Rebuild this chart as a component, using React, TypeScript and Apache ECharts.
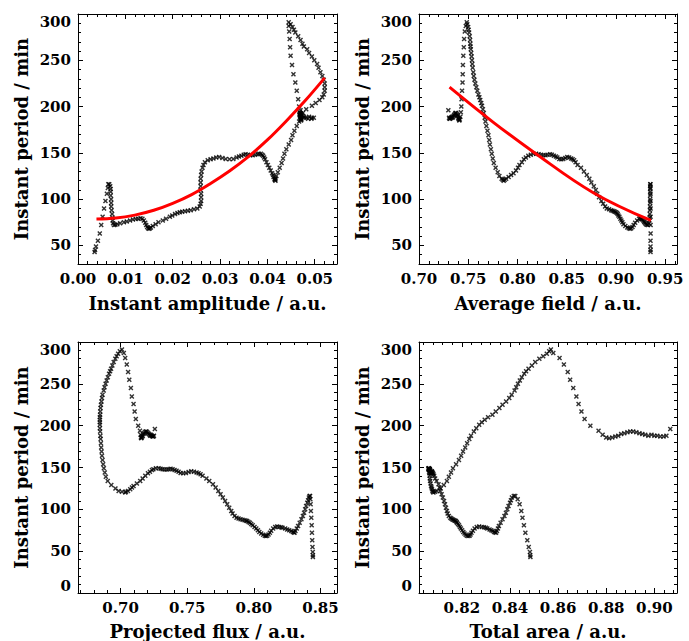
import React, { useEffect, useRef } from "react";
import * as echarts from "echarts";

// Instant period (min), time ordered
const period = [
  196, 188, 187, 187, 188, 188, 189, 188, 189, 190, 191, 192, 193, 193, 192, 191, 190, 188, 187, 186, 185, 186, 189,
  194, 200, 208, 217, 226, 235, 245, 255, 264, 273, 281, 287, 291,
  289, 286, 283, 280, 276, 272, 268, 265, 262, 258, 254, 250, 246, 242, 237, 233, 229, 225, 221, 217, 213, 210, 207, 204, 201, 197, 193, 188, 184, 179, 174, 169, 164, 159, 154, 149, 144, 139, 134, 129, 125, 122, 121, 120,
  121, 122, 124, 126, 128, 131, 134, 137, 140, 143, 145, 147, 148, 149, 149, 148.5, 148, 147.5, 147.5, 148, 148.5, 148, 147, 146, 145, 143.5, 143, 143.5, 144.5, 145.5, 145, 144, 143, 142,
  140, 137, 134, 130, 126, 122, 118, 114, 110, 106, 102, 98, 95, 92, 90, 89, 88,
  87.5, 87, 86.5, 86, 85, 84, 82.5, 81, 79, 77, 75, 73, 71, 69.5, 68.5, 68, 68.5, 70, 72, 74.5, 77, 79, 79.5, 79, 78.5, 78, 77, 76, 75, 74, 73, 72.5, 72,
  74, 77, 80, 84, 88, 92, 96, 100, 104, 108, 111, 114, 116, 116,
  112, 106, 98, 90, 81, 72, 63, 55, 49, 45, 43,
];

const amplitude = [
  0.0470, 0.0478, 0.0486, 0.0493, 0.0498, 0.0494, 0.0488, 0.0482, 0.0477, 0.0474, 0.0472, 0.0471, 0.0470, 0.0469, 0.0468, 0.0468, 0.0469, 0.0470, 0.0471, 0.0472, 0.0471, 0.0470, 0.0469,
  0.0468, 0.0467, 0.0465, 0.0462, 0.0459, 0.0455, 0.0452, 0.0449, 0.0448, 0.0447, 0.0446, 0.0445, 0.0445,
  0.0449, 0.0453, 0.0456, 0.0459, 0.0465, 0.0470, 0.0474, 0.0477, 0.0484, 0.0488, 0.0494, 0.0499, 0.0505, 0.0508, 0.0512, 0.0516, 0.0519, 0.0521, 0.0521, 0.0521, 0.0519, 0.0516, 0.0510, 0.0502, 0.0494, 0.0482, 0.0475, 0.0470, 0.0467, 0.0462, 0.0457, 0.0453, 0.0450, 0.0445, 0.0440, 0.0436, 0.0433, 0.0430, 0.0426, 0.0422, 0.0419, 0.0417, 0.0416, 0.0417,
  0.0416, 0.0415, 0.0413, 0.0412, 0.0410, 0.0407, 0.0404, 0.0401, 0.0398, 0.0395, 0.0393, 0.0391, 0.0389, 0.0386, 0.0382, 0.0379, 0.0374, 0.0369, 0.0364, 0.0359, 0.0354, 0.0350, 0.0345, 0.0340, 0.0335, 0.0328, 0.0320, 0.0312, 0.0305, 0.0298, 0.0292, 0.0286, 0.0280, 0.0274,
  0.0268, 0.0265, 0.0263, 0.0261, 0.0260, 0.0259, 0.0259, 0.0259, 0.0259, 0.0260, 0.0260, 0.0260, 0.0259, 0.0257, 0.0252, 0.0245, 0.0238,
  0.0232, 0.0226, 0.0220, 0.0215, 0.0210, 0.0205, 0.0199, 0.0194, 0.0186, 0.0179, 0.0170, 0.0164, 0.0158, 0.0154, 0.0152, 0.0150, 0.0148, 0.0146, 0.0144, 0.0142, 0.0139, 0.0136, 0.0132, 0.0127, 0.0122, 0.0116, 0.0110, 0.0103, 0.0097, 0.0089, 0.0083, 0.0079, 0.0076,
  0.0074, 0.0073, 0.0073, 0.0072, 0.0071, 0.0070, 0.0070, 0.0070, 0.0069, 0.0069, 0.0069, 0.0068, 0.0066, 0.0064,
  0.0063, 0.0061, 0.0058, 0.0055, 0.0052, 0.0049, 0.0046, 0.0042, 0.0038, 0.0036, 0.0035,
];

const averageField = [
  0.7298, 0.7305, 0.7310, 0.7316, 0.7322, 0.7328, 0.7334, 0.7340, 0.7346, 0.7352, 0.7358, 0.7364, 0.7370, 0.7376, 0.7382, 0.7388, 0.7394, 0.7398, 0.7402, 0.7406, 0.7410, 0.7414, 0.7420,
  0.7425, 0.7430, 0.7432, 0.7437, 0.7442, 0.7444, 0.7446, 0.7450, 0.7455, 0.7458, 0.7465, 0.7475, 0.7485,
  0.7490, 0.7499, 0.7504, 0.7509, 0.7515, 0.7519, 0.7521, 0.7523, 0.7526, 0.7530, 0.7534, 0.7538, 0.7541, 0.7545, 0.7551, 0.7556, 0.7563, 0.7572, 0.7582, 0.7592, 0.7603, 0.7613, 0.7622, 0.7632, 0.7640, 0.7649, 0.7658, 0.7667, 0.7675, 0.7684, 0.7695, 0.7705, 0.7713, 0.7720, 0.7730, 0.7739, 0.7749, 0.7760, 0.7778, 0.7799, 0.7816, 0.7839, 0.7850, 0.7860,
  0.7870, 0.7885, 0.7910, 0.7935, 0.7960, 0.7985, 0.8005, 0.8020, 0.8045, 0.8065, 0.8085, 0.8110, 0.8135, 0.8162, 0.8190, 0.8215, 0.8240, 0.8263, 0.8285, 0.8305, 0.8331, 0.8350, 0.8370, 0.8390, 0.8405, 0.8425, 0.8445, 0.8465, 0.8485, 0.8505, 0.8525, 0.8545, 0.8560, 0.8575,
  0.8590, 0.8610, 0.8645, 0.8675, 0.8704, 0.8730, 0.8750, 0.8775, 0.8795, 0.8810, 0.8828, 0.8852, 0.8870, 0.8890, 0.8907, 0.8930, 0.8950,
  0.8965, 0.8978, 0.8990, 0.9000, 0.9010, 0.9018, 0.9025, 0.9035, 0.9045, 0.9055, 0.9065, 0.9076, 0.9095, 0.9115, 0.9130, 0.9144, 0.9155, 0.9168, 0.9180, 0.9195, 0.9215, 0.9235, 0.9246, 0.9255, 0.9262, 0.9270, 0.9278, 0.9285, 0.9290, 0.9297, 0.9305, 0.9315, 0.9325,
  0.9335, 0.9340, 0.9342, 0.9344, 0.9345, 0.9346, 0.9347, 0.9347, 0.9348, 0.9348, 0.9348, 0.9348, 0.9349, 0.9350,
  0.9350, 0.9351, 0.9351, 0.9352, 0.9352, 0.9352, 0.9352, 0.9351, 0.9351, 0.9351, 0.9351,
];

const projectedFlux = [
  0.7257, 0.7250, 0.7246, 0.7240, 0.7236, 0.7232, 0.7226, 0.7222, 0.7218, 0.7212, 0.7206, 0.7200, 0.7194, 0.7188, 0.7182, 0.7176, 0.7170, 0.7166, 0.7162, 0.7158, 0.7155, 0.7152, 0.7150,
  0.7145, 0.7132, 0.7114, 0.7105, 0.7097, 0.7084, 0.7077, 0.7065, 0.7056, 0.7046, 0.7034, 0.7024, 0.7010,
  0.6994, 0.6981, 0.6970, 0.6960, 0.6948, 0.6938, 0.6928, 0.6921, 0.6913, 0.6904, 0.6895, 0.6887, 0.6879, 0.6873, 0.6864, 0.6860, 0.6856, 0.6852, 0.6849, 0.6847, 0.6846, 0.6844, 0.6844, 0.6844, 0.6844, 0.6844, 0.6846, 0.6848, 0.6850, 0.6852, 0.6854, 0.6857, 0.6860, 0.6864, 0.6869, 0.6874, 0.6881, 0.6889, 0.6903, 0.6930, 0.6961, 0.6985, 0.7010, 0.7035,
  0.7040, 0.7055, 0.7072, 0.7085, 0.7097, 0.7122, 0.7147, 0.7165, 0.7185, 0.7205, 0.7220, 0.7235, 0.7246, 0.7265, 0.7285, 0.7300, 0.7315, 0.7330, 0.7346, 0.7360, 0.7375, 0.7390, 0.7405, 0.7420, 0.7435, 0.7450, 0.7470, 0.7490, 0.7510, 0.7530, 0.7550, 0.7570, 0.7585, 0.7600,
  0.7615, 0.7644, 0.7665, 0.7693, 0.7713, 0.7733, 0.7750, 0.7767, 0.7784, 0.7800, 0.7815, 0.7830, 0.7840, 0.7855, 0.7870, 0.7885, 0.7900,
  0.7915, 0.7930, 0.7942, 0.7950, 0.7960, 0.7970, 0.7980, 0.7991, 0.8005, 0.8018, 0.8030, 0.8041, 0.8055, 0.8070, 0.8082, 0.8091, 0.8100, 0.8110, 0.8120, 0.8130, 0.8145, 0.8160, 0.8175, 0.8190, 0.8205, 0.8215, 0.8235, 0.8250, 0.8265, 0.8280, 0.8292, 0.8300, 0.8305,
  0.8312, 0.8322, 0.8332, 0.8344, 0.8357, 0.8368, 0.8377, 0.8385, 0.8392, 0.8401, 0.8407, 0.8413, 0.8418, 0.8422,
  0.8424, 0.8426, 0.8428, 0.8431, 0.8434, 0.8436, 0.8438, 0.8440, 0.8442, 0.8443, 0.8443,
];

const totalArea = [
  0.9066, 0.9050, 0.9038, 0.9025, 0.9012, 0.9000, 0.8988, 0.8975, 0.8962, 0.8950, 0.8938, 0.8925, 0.8912, 0.8900, 0.8888, 0.8875, 0.8862, 0.8850, 0.8838, 0.8825, 0.8812, 0.8800, 0.8785,
  0.8768, 0.8734, 0.8710, 0.8697, 0.8685, 0.8676, 0.8663, 0.8650, 0.8640, 0.8624, 0.8606, 0.8580, 0.8570,
  0.8563, 0.8553, 0.8538, 0.8522, 0.8505, 0.8491, 0.8477, 0.8467, 0.8459, 0.8449, 0.8441, 0.8433, 0.8426, 0.8419, 0.8407, 0.8397, 0.8384, 0.8369, 0.8356, 0.8341, 0.8327, 0.8309, 0.8295, 0.8283, 0.8272, 0.8260, 0.8250, 0.8238, 0.8231, 0.8222, 0.8214, 0.8205, 0.8197, 0.8188, 0.8176, 0.8163, 0.8155, 0.8146, 0.8138, 0.8125, 0.8112, 0.8096, 0.8089, 0.8082,
  0.8080, 0.8078, 0.8076, 0.8074, 0.8072, 0.8070, 0.8068, 0.8067, 0.8066, 0.8065, 0.8064, 0.8063, 0.8062, 0.8062, 0.8062, 0.8063, 0.8063, 0.8064, 0.8065, 0.8065, 0.8066, 0.8067, 0.8068, 0.8069, 0.8070, 0.8071, 0.8072, 0.8073, 0.8074, 0.8075, 0.8076, 0.8078, 0.8080, 0.8082,
  0.8085, 0.8089, 0.8095, 0.8103, 0.8107, 0.8110, 0.8116, 0.8121, 0.8126, 0.8130, 0.8134, 0.8138, 0.8141, 0.8146, 0.8152, 0.8156, 0.8160,
  0.8164, 0.8168, 0.8172, 0.8175, 0.8178, 0.8180, 0.8184, 0.8188, 0.8192, 0.8196, 0.8201, 0.8206, 0.8211, 0.8216, 0.8221, 0.8227, 0.8232, 0.8236, 0.8240, 0.8246, 0.8253, 0.8262, 0.8272, 0.8283, 0.8292, 0.8300, 0.8306, 0.8315, 0.8322, 0.8328, 0.8334, 0.8338, 0.8342,
  0.8346, 0.8350, 0.8354, 0.8361, 0.8369, 0.8377, 0.8383, 0.8389, 0.8394, 0.8400, 0.8404, 0.8408, 0.8416, 0.8422,
  0.8432, 0.8440, 0.8447, 0.8452, 0.8458, 0.8464, 0.8472, 0.8478, 0.8483, 0.8484, 0.8485,
];

// Red fit curves
const ampFitX = [0.0039, 0.008, 0.012, 0.016, 0.020, 0.024, 0.028, 0.032, 0.036, 0.040, 0.044, 0.048, 0.0521];
const ampFitY = [78.5, 79.6, 82.8, 88, 95.5, 105, 117, 130.5, 146, 164, 184.5, 206.5, 231];
const fieldFitX = [0.731, 0.7755, 0.8162, 0.877, 0.9355];
const fieldFitY = [221, 183, 151, 107, 77];

const yTitle = "Instant period / min";
const xTitles = [
  "Instant amplitude / a.u.",
  "Average field / a.u.",
  "Projected flux / a.u.",
  "Total area / a.u.",
];

const FONT = "'DejaVu Serif', serif";
const X_MARK = "path://M0,2L2,0L5,3L8,0L10,2L7,5L10,8L8,10L5,7L2,10L0,8L3,5Z";

const panels = [
  { xs: amplitude, fitX: ampFitX, fitY: ampFitY, xMin: 0, xMax: 0.0547, xStep: 0.01, yMin: 30, left: 78, top: 14, width: 259, height: 250 },
  { xs: averageField, fitX: fieldFitX, fitY: fieldFitY, xMin: 0.7, xMax: 0.962, xStep: 0.05, yMin: 30, left: 419, top: 14, width: 258, height: 250 },
  { xs: projectedFlux, fitX: null, fitY: null, xMin: 0.668, xMax: 0.8624, xStep: 0.05, yMin: 0, left: 78, top: 342, width: 259, height: 251 },
  { xs: totalArea, fitX: null, fitY: null, xMin: 0.8022, xMax: 0.9094, xStep: 0.02, yMin: 0, left: 419, top: 342, width: 258, height: 251 },
];

const isMultiple = (v: number, step: number) => {
  const r = v / step;
  return Math.abs(r - Math.round(r)) < 1e-6;
};

export default function App() {
  const ref = useRef<HTMLDivElement>(null);
  useEffect(() => {
    if (!ref.current) return;
    const chart = echarts.init(ref.current, undefined, { renderer: "svg" });
    const axisLine = { show: true, onZero: false, lineStyle: { color: "#000", width: 1 } };
    const axisTick = { show: true, inside: true, length: 5, lineStyle: { color: "#000", width: 1 } };
    const minorTick = { show: true, splitNumber: 5, length: 3, lineStyle: { color: "#000", width: 1 } };
    const tickFont = { color: "#000", fontFamily: FONT, fontSize: 15, fontWeight: "bold" };
    const titleFont = { color: "#000", fontFamily: FONT, fontSize: 18, fontWeight: "bold" };

    const grid: any[] = [];
    const xAxis: any[] = [];
    const yAxis: any[] = [];
    const series: any[] = [];

    panels.forEach((p, g) => {
      grid.push({ left: p.left, top: p.top, width: p.width, height: p.height, containLabel: false, outerBoundsMode: "none" });
      const xCommon = {
        type: "value", gridIndex: g, min: p.xMin, max: p.xMax,
        minInterval: p.xStep, maxInterval: p.xStep,
        splitLine: { show: false }, axisLine, axisTick, minorTick,
      };
      xAxis.push({
        ...xCommon, position: "bottom",
        name: xTitles[g], nameLocation: "middle", nameGap: g >= 2 ? 29 : 30,
        nameTextStyle: titleFont,
        axisLabel: {
          show: true, margin: 7, hideOverlap: false, ...tickFont,
          formatter: (v: number) => (isMultiple(v, p.xStep) ? v.toFixed(2) : ""),
        },
      });
      xAxis.push({ ...xCommon, position: "top", axisLabel: { show: false } });
      const yCommon = {
        type: "value", gridIndex: g, min: p.yMin, max: 300,
        minInterval: 50, maxInterval: 50,
        splitLine: { show: false }, axisLine, axisTick, minorTick,
      };
      yAxis.push({
        ...yCommon, position: "left",
        name: yTitle, nameLocation: "middle", nameGap: 48,
        nameTextStyle: titleFont,
        axisLabel: {
          show: true, margin: 7, hideOverlap: false, ...tickFont,
          verticalAlignMaxLabel: "top", verticalAlignMinLabel: "bottom",
          formatter: (v: number) => (isMultiple(v, 50) ? String(Math.round(v)) : ""),
        },
      });
      yAxis.push({ ...yCommon, position: "right", axisLabel: { show: false } });

      series.push({
        type: "scatter", xAxisIndex: 2 * g, yAxisIndex: 2 * g,
        symbol: X_MARK, symbolSize: 5,
        itemStyle: { color: "#000" },
        data: period.map((v, i) => [p.xs[i], v]),
        z: 2,
      });
      if (p.fitX && p.fitY) {
        const fy = p.fitY;
        series.push({
          type: "line", xAxisIndex: 2 * g, yAxisIndex: 2 * g,
          smooth: 0.4, symbol: "none",
          lineStyle: { color: "#ff0000", width: 3 },
          data: p.fitX.map((x, i) => [x, fy[i]]),
          z: 3,
        });
      }
    });

    chart.setOption({
      animation: false,
      backgroundColor: "#ffffff",
      textStyle: { fontFamily: FONT },
      grid, xAxis, yAxis, series,
    });
    return () => chart.dispose();
  }, []);
  return (
    <div
      ref={ref}
      style={{ position: "fixed", left: 0, top: 0, width: 689, height: 641, background: "#fff" }}
    />
  );
}
